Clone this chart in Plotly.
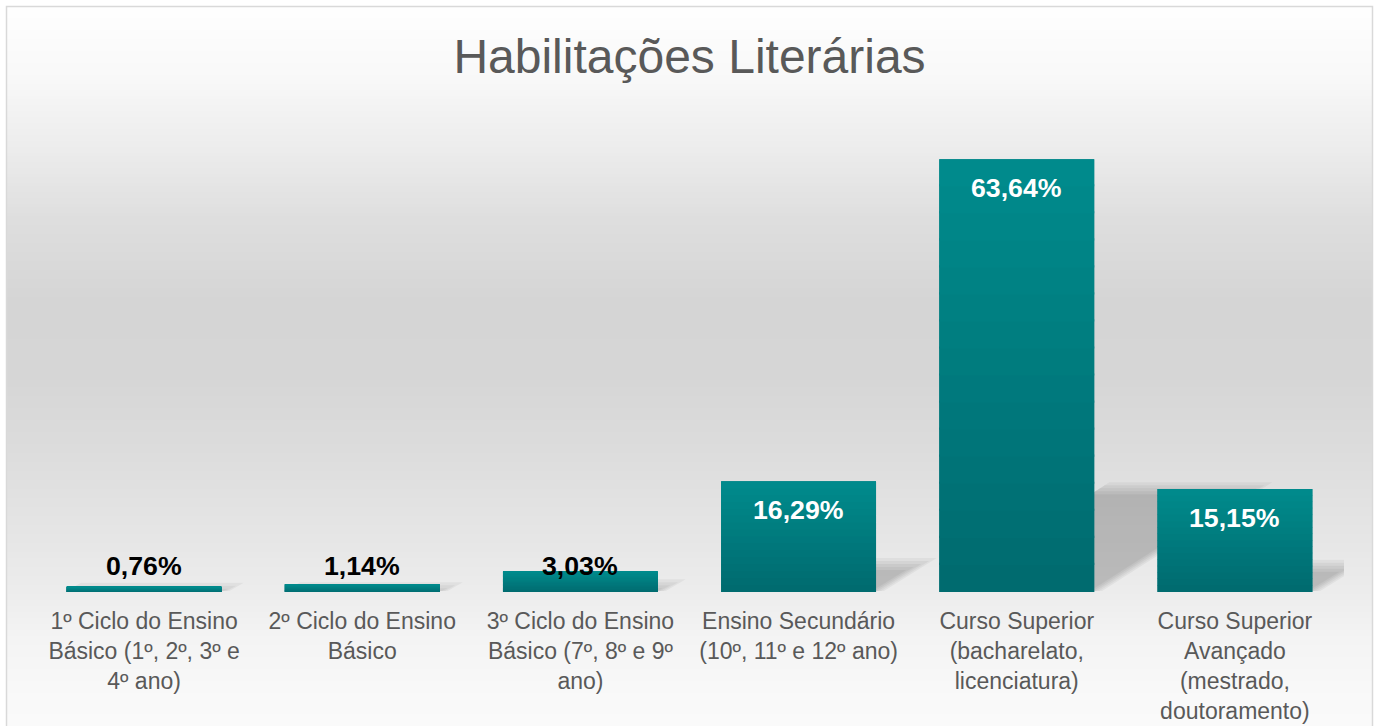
import plotly.graph_objects as go

# ---- data ----
categories = [
    "1º Ciclo do Ensino<br>Básico (1º, 2º, 3º e<br>4º ano)",
    "2º Ciclo do Ensino<br>Básico",
    "3º Ciclo do Ensino<br>Básico (7º, 8º e 9º<br>ano)",
    "Ensino Secundário<br>(10º, 11º e 12º ano)",
    "Curso Superior<br>(bacharelato,<br>licenciatura)",
    "Curso Superior<br>Avançado<br>(mestrado,<br>doutoramento)",
]
values = [0.76, 1.14, 3.03, 16.29, 63.64, 15.15]
labels = ["0,76%", "1,14%", "3,03%", "16,29%", "63,64%", "15,15%"]
title_text = "Habilitações Literárias"

# ---- layout geometry ----
W, H = 1379, 726
ML, MR, MT, MB = 35, 35, 116, 134
PW, PH = W - ML - MR, H - MT - MB
YMAX = 70.0
PX_PER_UNIT = PH / YMAX
PX_PER_CAT = PW / len(categories)
BAR_W = 0.71

def py_to_paper(py):
    return (H - MB - py) / PH

def px_to_paper(px):
    return (px - ML) / PW

fig = go.Figure()
xs = list(range(len(categories)))

# gradient bars: base full bar + stacked segments
N = 16
top_rgb = (0, 139, 141)
bot_rgb = (0, 106, 110)
fig.add_trace(go.Bar(x=xs, y=values, marker=dict(color="rgb(0,122,125)", line=dict(width=0)),
                     width=BAR_W, hoverinfo="skip", showlegend=False))
for k in range(N):
    t = (k + 0.5) / N
    c = tuple(round(bot_rgb[i] + (top_rgb[i] - bot_rgb[i]) * t) for i in range(3))
    seg = [v / N * (1.08 if k < N - 1 else 1.0) for v in values]
    base = [v * k / N for v in values]
    fig.add_trace(go.Bar(x=xs, y=seg, base=base, width=BAR_W,
                         marker=dict(color="rgb(%d,%d,%d)" % c, line=dict(width=0)),
                         hoverinfo="skip", showlegend=False))

shapes = []
annotations = []

# background vertical gradient
stops = [(0, 255), (80, 248), (150, 236), (220, 222), (300, 213), (380, 214),
         (450, 220), (520, 228), (590, 236), (640, 244), (700, 249), (726, 250)]

def gray_at(py):
    for (y0, g0), (y1, g1) in zip(stops[:-1], stops[1:]):
        if y0 <= py <= y1:
            return g0 + (g1 - g0) * (py - y0) / (y1 - y0)
    return stops[-1][1]

step = 3
for py in range(6, H, step):
    g = round(gray_at(py + step / 2))
    shapes.append(dict(type="rect", xref="paper", yref="paper", layer="below",
                       x0=px_to_paper(6), x1=px_to_paper(1373),
                       y0=py_to_paper(py + step + 0.6), y1=py_to_paper(py),
                       fillcolor="rgb(%d,%d,%d)" % (g, g, g), line=dict(width=0)))
# chart border
shapes.append(dict(type="rect", xref="paper", yref="paper", layer="below",
                   x0=px_to_paper(6.5), x1=px_to_paper(1372.5),
                   y0=py_to_paper(H + 5), y1=py_to_paper(6.5),
                   fillcolor="rgba(0,0,0,0)", line=dict(color="#d9d9d9", width=1.5)))

# soft perspective shadows behind bars (derived from bar values)
SH_RATIO = 0.235     # shadow height relative to bar height
SH_SLOPE = 1.55      # horizontal px per vertical px
blur_px = [8, 5, 2, -1, -4]
for i, v in enumerate(values):
    hs = v * SH_RATIO
    dx = SH_SLOPE * hs * PX_PER_UNIT / PX_PER_CAT
    for b in blur_px:
        bx = b / PX_PER_CAT
        by = b / PX_PER_UNIT
        x0 = i - BAR_W / 2
        x1 = i + BAR_W / 2 + bx
        ytop = max(hs + by, 0.05)
        path = "M %f,%f L %f,%f L %f,%f L %f,%f Z" % (
            x0, 0.15, x1, 0.15, x1 + dx * ytop / hs, ytop, x0 + dx * ytop / hs, ytop)
        shapes.append(dict(type="path", xref="x", yref="y", layer="below", path=path,
                           fillcolor="rgba(0,0,0,0.042)", line=dict(width=0)))

# data labels
inside_shift = 29 / PX_PER_UNIT
floor_pos = 26 / PX_PER_UNIT
for i, (v, lab) in enumerate(zip(values, labels)):
    pos = max(v - inside_shift, floor_pos)
    inside = (v - inside_shift) >= floor_pos
    annotations.append(dict(x=i, y=pos, xref="x", yref="y", text="<b>%s</b>" % lab,
                            showarrow=False, yanchor="middle", xanchor="center",
                            font=dict(family="Liberation Sans, Arial", size=26.7,
                                      color="white" if inside else "black")))

fig.update_layout(
    width=W, height=H,
    margin=dict(l=ML, r=MR, t=MT, b=MB, pad=0),
    paper_bgcolor="white", plot_bgcolor="rgba(0,0,0,0)",
    barmode="overlay", bargap=0.29,
    showlegend=False,
    title=dict(text=title_text, x=0.5, xanchor="center", y=1 - 56 / H, yanchor="middle",
               yref="container",
               font=dict(family="Liberation Sans, Arial", size=48, color="#595959")),
    xaxis=dict(tickmode="array", tickvals=xs, ticktext=categories, range=[-0.5, 5.5],
               showgrid=False, zeroline=False, showline=False, ticks="",
               ticklabelstandoff=13, automargin=False,
               tickfont=dict(family="Liberation Sans, Arial", size=23, color="#595959")),
    yaxis=dict(range=[0, YMAX], visible=False, showgrid=False, zeroline=False,
               automargin=False),
    shapes=shapes, annotations=annotations,
)

fig.write_html("out.html", config={"displayModeBar": False},
               post_script="document.body.style.margin='0';document.body.style.overflow='hidden';")
